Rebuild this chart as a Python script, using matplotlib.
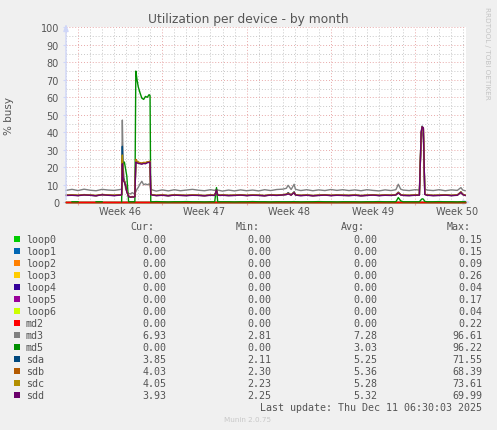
import numpy as np
import matplotlib
matplotlib.use("Agg")
import matplotlib.pyplot as plt
from matplotlib.patches import Rectangle

W, H = 497, 431

# time axis in days from the left edge of the graph
days = [
    0.0, 0.5, 1.0, 1.5, 2.0, 2.5, 3.0, 3.5, 4.0, 4.5,
    4.62, 4.68, 4.75, 4.85, 4.95, 5.05, 5.2, 5.35, 5.5, 5.62,
    5.72, 5.8, 5.9, 6.0, 6.15, 6.3, 6.45, 6.6, 6.75, 6.9, 6.98,
    7.04, 7.2, 7.5, 8.0, 8.5, 9.0, 9.5, 10.0, 10.5, 11.0, 11.5, 12.0, 12.35,
    12.5, 12.6, 12.8, 13.0, 13.5, 14.0, 14.5, 15.0, 15.5, 16.0, 16.5, 17.0, 17.5, 18.0,
    18.3, 18.45, 18.7, 18.95, 19.05, 19.3, 19.5, 20.0, 20.5, 21.0, 21.5, 22.0, 22.5, 23.0,
    23.5, 24.0, 24.5, 25.0, 25.5, 26.0, 26.5, 27.0, 27.4, 27.6, 27.8, 28.0, 28.5, 29.0,
    29.35, 29.5, 29.58, 29.68, 29.8, 30.0, 30.5, 31.0, 31.5, 32.0, 32.5, 32.8, 32.95, 33.15,
]

nan = np.nan
md3 = [
    6.8, 7.4, 6.7, 7.5, 6.9, 6.6, 7.4, 7.0, 6.8, 7.3,
    7.5, 47.0, 20.0, 12.0, 8.0, 6.0, 5.0, 4.8, 5.5, 5.0,
    5.2, 6.0, 7.5, 8.5, 10.5, 12.0, 10.0, 10.5, 10.0, 10.5, 10.2,
    7.5, 7.0, 6.4, 7.1, 6.5, 7.2, 6.6, 7.0, 7.4, 6.9, 6.6, 7.2, 6.8,
    7.5, 7.0, 6.7, 6.4, 7.0, 6.5, 7.1, 6.6, 7.0, 6.5, 7.2, 6.7, 7.3, 7.5,
    8.0, 9.7, 7.3, 10.3, 7.5, 7.0, 6.7, 7.2, 6.6, 7.1, 6.7, 7.3, 6.8, 7.2,
    6.7, 7.1, 6.6, 7.2, 6.8, 6.5, 7.1, 6.7, 7.2, 10.3, 7.5, 7.0, 6.7, 7.2,
    7.0, 35.0, 40.0, 38.0, 7.5, 7.0, 6.7, 7.2, 6.6, 7.1, 6.8, 8.4, 7.0, 6.6,
]
md5 = [
    nan, 0.3, 0.3, nan, nan, 0.3, 0.3, nan, nan, nan,
    0.3, 24.0, 22.0, 23.0, 19.0, 15.0, 0.3, 0.3, 0.3, 0.3,
    0.3, 75.0, 70.0, 66.0, 62.5, 59.5, 58.8, 60.5, 60.0, 61.5, 61.0,
    0.3, 0.3, 0.4, 0.3, 0.2, 0.3, 0.3, 0.4, 0.3, 0.3, 0.2, 0.3, 0.3,
    8.4, 0.3, 0.3, 0.3, 0.3, 0.2, 0.3, 0.3, 0.4, 0.3, 0.3, 0.2, 0.3, 0.3,
    0.3, 0.3, 0.3, 0.4, 0.3, 0.3, 0.2, 0.3, 0.3, 0.4, 0.3, 0.3, 0.2, 0.3,
    0.3, 0.3, 0.2, 0.3, 0.3, 0.4, 0.3, 0.3, 0.3, 2.7, 0.8, 0.3, 0.3, 0.3,
    0.3, 1.5, 2.0, 1.8, 0.5, 0.3, 0.3, 0.4, 0.3, 0.3, 0.2, 0.3, 0.3, 0.3,
]
sda = [
    4.0, 4.1, 3.9, 4.3, 4.0, 3.8, 4.4, 4.1, 3.9, 4.2,
    4.3, 32.0, 14.0, 12.5, 10.0, 6.5, 3.5, 3.0, 3.2, 3.1,
    3.3, 23.5, 23.0, 22.5, 22.3, 22.0, 22.5, 22.3, 22.8, 23.0, 23.2,
    4.5, 4.2, 3.9, 4.1, 3.8, 4.2, 4.0, 3.9, 4.1, 4.0, 3.8, 4.1, 4.0,
    6.5, 4.2, 4.0, 4.1, 3.9, 4.0, 4.2, 3.9, 4.1, 4.0, 3.8, 4.2, 4.0, 4.3,
    4.5, 5.5, 4.2, 6.0, 4.3, 4.0, 3.9, 4.1, 3.8, 4.0, 4.2, 3.9, 4.1, 4.0,
    3.9, 4.1, 3.8, 4.0, 4.2, 3.9, 4.1, 4.0, 4.3, 5.8, 4.3, 4.0, 3.9, 4.1,
    4.2, 40.0, 43.5, 42.0, 4.6, 4.1, 3.9, 4.0, 4.2, 3.9, 4.1, 6.0, 4.5, 4.0,
]
sdb = [
    4.1, 4.2, 4.0, 4.4, 4.1, 3.9, 4.5, 4.2, 4.0, 4.3,
    4.4, 25.0, 13.0, 12.0, 9.5, 6.3, 3.6, 3.1, 3.3, 3.2,
    3.4, 24.5, 23.5, 23.0, 22.6, 22.4, 22.8, 22.7, 23.1, 23.3, 23.5,
    4.6, 4.3, 4.0, 4.2, 3.9, 4.3, 4.1, 4.0, 4.2, 4.1, 3.9, 4.2, 4.1,
    6.8, 4.3, 4.1, 4.2, 4.0, 4.1, 4.3, 4.0, 4.2, 4.1, 3.9, 4.3, 4.1, 4.4,
    4.6, 5.2, 4.3, 5.8, 4.4, 4.1, 4.0, 4.2, 3.9, 4.1, 4.3, 4.0, 4.2, 4.1,
    4.0, 4.2, 3.9, 4.1, 4.3, 4.0, 4.2, 4.1, 4.4, 5.6, 4.4, 4.1, 4.0, 4.2,
    4.3, 39.0, 43.0, 42.5, 4.7, 4.2, 4.0, 4.1, 4.3, 4.0, 4.2, 5.8, 4.6, 4.1,
]
sdc = [
    4.0, 4.2, 3.9, 4.3, 4.1, 3.8, 4.4, 4.1, 4.0, 4.2,
    4.3, 27.0, 13.5, 12.0, 9.8, 6.4, 3.5, 3.0, 3.2, 3.1,
    3.3, 24.0, 23.0, 22.8, 22.5, 22.2, 22.6, 22.5, 23.0, 23.1, 23.3,
    4.5, 4.2, 3.9, 4.1, 3.8, 4.2, 4.0, 3.9, 4.2, 4.0, 3.8, 4.1, 4.0,
    6.6, 4.2, 4.0, 4.1, 3.9, 4.0, 4.2, 3.9, 4.1, 4.0, 3.8, 4.2, 4.0, 4.3,
    4.5, 5.0, 4.2, 5.6, 4.3, 4.0, 3.9, 4.1, 3.8, 4.0, 4.2, 3.9, 4.1, 4.0,
    3.9, 4.1, 3.8, 4.0, 4.2, 3.9, 4.1, 4.0, 4.3, 5.5, 4.3, 4.0, 3.9, 4.1,
    4.2, 39.5, 43.2, 42.2, 4.6, 4.1, 3.9, 4.0, 4.2, 3.9, 4.1, 5.9, 4.5, 4.0,
]
sdd = [
    3.9, 4.0, 3.8, 4.2, 4.0, 3.7, 4.3, 4.0, 3.8, 4.1,
    4.2, 22.0, 12.5, 11.5, 9.5, 6.0, 3.3, 2.9, 3.1, 3.0,
    3.2, 23.0, 22.5, 22.3, 22.0, 21.8, 22.2, 22.0, 22.6, 22.8, 23.0,
    4.4, 4.1, 3.8, 4.0, 3.7, 4.1, 3.9, 3.8, 4.0, 3.9, 3.7, 4.0, 3.9,
    7.0, 4.1, 3.9, 4.0, 3.8, 3.9, 4.1, 3.8, 4.0, 3.9, 3.7, 4.1, 3.9, 4.2,
    4.4, 4.8, 4.1, 5.5, 4.2, 3.9, 3.8, 4.0, 3.7, 3.9, 4.1, 3.8, 4.0, 3.9,
    3.8, 4.0, 3.7, 3.9, 4.1, 3.8, 4.0, 3.9, 4.2, 5.3, 4.2, 3.9, 3.8, 4.0,
    4.1, 40.0, 43.2, 42.5, 4.5, 4.0, 3.8, 3.9, 4.1, 3.8, 4.0, 5.6, 4.4, 3.9,
]
# loop devices and md2 sit at zero for the whole month
idle_days = [0.0, 33.15]
idle_vals = [0.0, 0.0]

names = ["loop0", "loop1", "loop2", "loop3", "loop4", "loop5", "loop6",
         "md2", "md3", "md5", "sda", "sdb", "sdc", "sdd"]
colors = ["#00CC00", "#0066B3", "#FF8000", "#FFCC00", "#330099", "#990099", "#CCFF00",
          "#FF0000", "#808080", "#008F00", "#00487D", "#B35A00", "#B38F00", "#6B006B"]
cur = ["0.00"] * 8 + ["6.93", "0.00", "3.85", "4.03", "4.05", "3.93"]
mins = ["0.00"] * 8 + ["2.81", "0.00", "2.11", "2.30", "2.23", "2.25"]
avgs = ["0.00"] * 8 + ["7.28", "3.03", "5.25", "5.36", "5.28", "5.32"]
maxs = ["0.15", "0.15", "0.09", "0.26", "0.04", "0.17", "0.04", "0.22",
        "96.61", "96.22", "71.55", "68.39", "73.61", "69.99"]
week_labels = ["Week 46", "Week 47", "Week 48", "Week 49", "Week 50"]
week_starts = [1, 8, 15, 22, 29]

series = {"md3": md3, "md5": md5, "sda": sda, "sdb": sdb, "sdc": sdc, "sdd": sdd}

TXT = "#555555"
fig = plt.figure(figsize=(W / 100, H / 100), dpi=100, facecolor="#F0F0F0")
ax = fig.add_axes([66 / W, 1 - 203.3 / H, 400 / W, 175 / H])
ax.set_facecolor("white")
ax.set_xlim(0, 400 / 12.04)
ax.set_ylim(0, 100)

# grid: light dotted for minor, reddish dotted for major
for d in range(0, 34):
    if d in week_starts:
        ax.axvline(d, color="#E8A8A8", lw=0.7, ls=(0, (1, 2)), zorder=0)
    else:
        ax.axvline(d, color="#C8C8C8", lw=0.7, ls=(0, (1, 2)), zorder=0)
for v in range(5, 101, 5):
    c = "#E8A8A8" if v % 10 == 0 else "#C8C8C8"
    ax.axhline(v, color=c, lw=0.7, ls=(0, (1, 2)), zorder=0)

for name, col in zip(names, colors):
    if name in series:
        ax.plot(days, series[name], color=col, lw=1.0, zorder=3, clip_on=False)
    else:
        ax.plot(idle_days, idle_vals, color=col, lw=1.0, zorder=2, clip_on=False)

for s in ax.spines.values():
    s.set_visible(False)

ax.set_yticks(range(0, 101, 10))
ax.set_yticklabels([str(v) for v in range(0, 101, 10)])
ax.set_xticks(week_starts)
ax.set_xticklabels([])
ax.set_xticks([w + 3.5 for w in week_starts], minor=True)
ax.set_xticklabels(week_labels, minor=True)
ax.tick_params(axis="x", which="major", length=2, color="#E8A8A8", direction="out")
ax.tick_params(axis="x", which="minor", length=0, labelsize=7, labelcolor=TXT, pad=3)
ax.tick_params(axis="y", length=2, color="#CFD6F8", labelsize=7, labelcolor=TXT, pad=3)

# axis lines with arrows
ax.annotate("", xy=(0, 1.035), xytext=(0, 0), xycoords="axes fraction",
            arrowprops=dict(arrowstyle="-|>,head_width=0.15,head_length=0.4",
                            color="#CFD6F8", lw=1), annotation_clip=False)
ax.annotate("", xy=(1.018, 0), xytext=(0, 0), xycoords="axes fraction",
            arrowprops=dict(arrowstyle="-|>,head_width=0.15,head_length=0.4",
                            color="#CFD6F8", lw=1), annotation_clip=False, zorder=1)

ax.set_ylabel("% busy", color=TXT, fontsize=7.5, labelpad=19)

fig.text(248 / W, 1 - 19 / H, "Utilization per device - by month", ha="center", va="center",
         color=TXT, fontsize=8.8)
fig.text(487 / W, 1 - 53 / H, "RRDTOOL / TOBI OETIKER", rotation=270, ha="center", va="center",
         color="#C4C4C4", fontsize=5.2)

mono = "DejaVu Sans Mono"
fs = 7.2
hdr_y = 227.5
for label, xr in zip(["Cur:", "Min:", "Avg:", "Max:"], [154.5, 259.5, 365, 470.5]):
    fig.text(xr / W, 1 - hdr_y / H, label, ha="right", va="center", family=mono,
             fontsize=fs, color=TXT)

for i, (name, col) in enumerate(zip(names, colors)):
    y = 240 + 12 * i
    fig.patches.append(Rectangle((14 / W, 1 - (y + 3) / H), 6 / W, 6 / H,
                                 transform=fig.transFigure, facecolor=col,
                                 edgecolor="none", figure=fig))
    fig.text(26 / W, 1 - y / H, name, ha="left", va="center", family=mono,
             fontsize=fs, color=TXT)
    for vals, xr in zip([cur, mins, avgs, maxs], [166.7, 271.7, 377.3, 482.5]):
        fig.text(xr / W, 1 - y / H, vals[i], ha="right", va="center", family=mono,
                 fontsize=fs, color=TXT)

fig.text(482.5 / W, 1 - 408 / H, "Last update: Thu Dec 11 06:30:03 2025", ha="right",
         va="center", family=mono, fontsize=fs, color=TXT)
fig.text(248 / W, 1 - 420 / H, "Munin 2.0.75", ha="center", va="center",
         color="#C8C8C8", fontsize=5.2)

fig.savefig("out.png", dpi=100, facecolor=fig.get_facecolor())
